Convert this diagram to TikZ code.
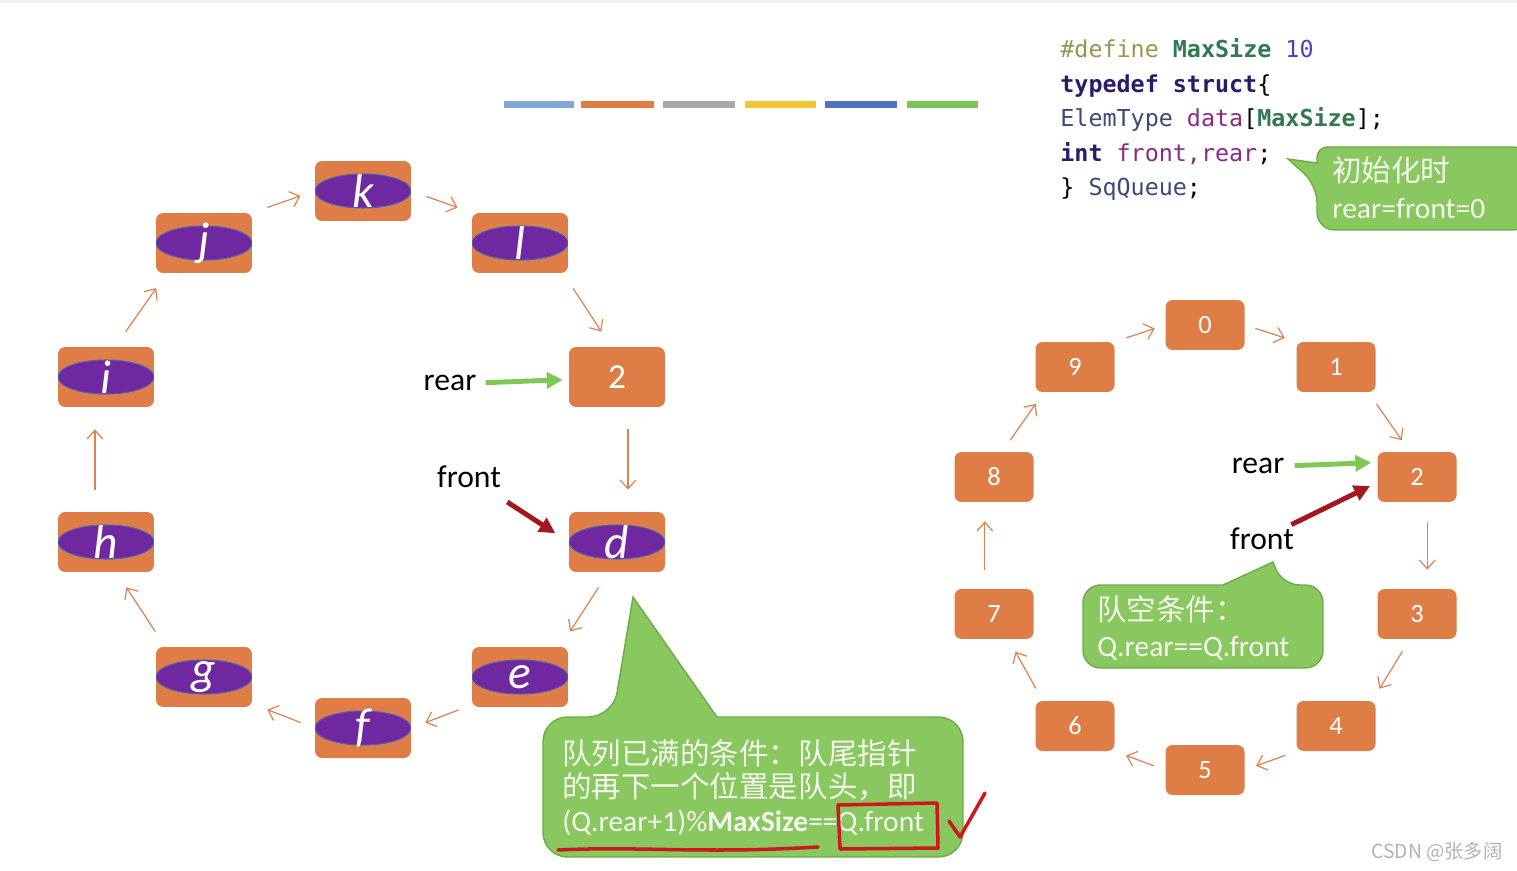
\documentclass[tikz,border=0pt]{standalone}
\usepackage{fontspec}
\setmainfont{Carlito}
\newfontfamily\cjk{Noto Sans CJK SC}
\newfontfamily\codefont{DejaVu Sans Mono}
\usetikzlibrary{arrows.meta}

\definecolor{boxorange}{RGB}{222,126,70}
\definecolor{ovalpurple}{RGB}{112,40,160}
\definecolor{ovalrim}{RGB}{80,95,175}
\definecolor{ringorange}{RGB}{222,130,80}
\definecolor{pointgreen}{RGB}{126,200,85}
\definecolor{pointred}{RGB}{165,22,30}
\definecolor{calloutgreen}{RGB}{137,200,95}
\definecolor{calloutrim}{RGB}{108,172,70}
\definecolor{notewhite}{RGB}{246,246,240}
\definecolor{redink}{RGB}{205,25,30}
\definecolor{codeolive}{RGB}{150,150,80}
\definecolor{codegreen}{RGB}{50,120,80}
\definecolor{codeblue}{RGB}{70,70,195}
\definecolor{codenavy}{RGB}{43,27,106}
\definecolor{codeslate}{RGB}{58,74,122}
\definecolor{codepurple}{RGB}{139,42,139}
\definecolor{barA}{RGB}{128,168,215}
\definecolor{barB}{RGB}{224,124,60}
\definecolor{barC}{RGB}{168,168,168}
\definecolor{barD}{RGB}{242,198,50}
\definecolor{barE}{RGB}{80,115,190}
\definecolor{barF}{RGB}{125,195,90}

\newcommand{\kw}[1]{{\bfseries\color{codenavy}#1}}
\newcommand{\mx}[1]{{\bfseries\color{codegreen}#1}}

\begin{document}
\begin{tikzpicture}[x=0.02cm, y=-0.02cm,
    letterbox/.style={fill=boxorange, rounded corners=4pt, minimum width=1.92cm,
      minimum height=1.2cm, inner sep=0pt, text=white,
      font=\itshape\fontsize{27}{27}\selectfont,
      path picture={\draw[fill=ovalpurple, draw=ovalrim, line width=0.6pt]
        (path picture bounding box.center) ellipse [x radius=0.96cm, y radius=0.34cm];}},
    digitbox/.style={fill=boxorange, rounded corners=4pt, minimum width=1.92cm,
      minimum height=1.2cm, inner sep=0pt, text=white, font=\fontsize{20}{20}\selectfont},
    numbox/.style={fill=boxorange, rounded corners=4pt, minimum width=1.58cm,
      minimum height=1.0cm, inner sep=0pt, text=white, font=\fontsize{15}{15}\selectfont},
    ring/.style={draw=ringorange, line width=0.7pt, -{Straight Barb[length=5pt, width=9pt]},
      shorten <=0.36cm, shorten >=0.36cm},
    smallring/.style={ring, shorten <=0.28cm, shorten >=0.28cm},
    tag/.style={inner sep=0pt, font=\fontsize{18}{18}\selectfont},
    greenpointer/.style={draw=pointgreen, line width=2.8pt,
      -{Triangle[length=9pt, width=9pt]}},
    redpointer/.style={draw=pointred, line width=2.8pt,
      -{Triangle[length=9pt, width=9pt]}},
    callout/.style={fill=calloutgreen, draw=calloutrim, line width=0.8pt},
    note/.style={inner sep=0pt, anchor=west, text=notewhite, font=\fontsize{16.8}{16.8}\selectfont},
    code/.style={inner sep=0pt, anchor=base west, font=\codefont\fontsize{13.3}{16}\selectfont},
    redmark/.style={draw=redink, line width=2pt, line cap=round, line join=round}]

  \useasboundingbox (0,0) rectangle (1517,871);
  \fill[gray!12] (0,0) rectangle (1517,3);

  % colour strip under the title
  \fill[barA] (504,101) rectangle (574,108);
  \fill[barB] (581,101) rectangle (654,108);
  \fill[barC] (663,101) rectangle (735,108);
  \fill[barD] (745,101) rectangle (816,108);
  \fill[barE] (825,101) rectangle (897,108);
  \fill[barF] (907,101) rectangle (978,108);

  % full queue
  \node[letterbox] (lk) at (363,191) {k};
  \node[letterbox] (lj) at (204,243) {j};
  \node[letterbox] (ll) at (520,243) {l};
  \node[letterbox] (li) at (106,377) {i};
  \node[digitbox] (ltwo) at (617,377) {2};
  \node[letterbox] (lh) at (106,542) {h};
  \node[letterbox] (ld) at (617,542) {d};
  \node[letterbox] (lg) at (204,677) {g};
  \node[letterbox] (le) at (520,677) {e};
  \node[letterbox] (lf) at (363,728) {f};

  \draw[ring] (li.73) -- (lj.-141);
  \draw[ring, shorten <=0.32cm, shorten >=0.3cm] (lj.north east) -- (lk.west);
  \draw[ring, shorten <=0.32cm, shorten >=0.3cm] (lk.east) -- (ll.north west);
  \draw[ring] (ll.-35) -- (ltwo.101);
  \draw[ring, shorten <=0.44cm, shorten >=0.44cm] (ltwo.-70) -- (ld.70);
  \draw[ring] (ld.-106) -- (le.37);
  \draw[ring, shorten <=0.28cm, shorten >=0.3cm] (le.-150) -- (lf.east);
  \draw[ring, shorten <=0.3cm, shorten >=0.32cm] (lf.west) -- (lg.-29);
  \draw[ring] (lg.142) -- (lh.-71);
  \draw[ring, shorten <=0.44cm, shorten >=0.44cm] (lh.110) -- (li.-110);

  \node[tag] (lrear) at (450,383) {rear};
  \draw[greenpointer, shorten <=0.18cm, shorten >=0.12cm] (lrear.east) -- (ltwo.-177);
  \node[tag] (lfront) at (469,477) {front};
  \draw[redpointer, shorten <=0.5cm, shorten >=0.32cm] (lfront) -- (ld.west);

  % empty queue
  \foreach \n/\x/\y in {0/1205/325, 1/1336/367, 2/1417/477, 3/1417/614, 4/1336/726,
      5/1205/770, 6/1075/726, 7/994/614, 8/994/477, 9/1075/367}
    \node[numbox] (r\n) at (\x,\y) {\n};

  \draw[smallring, shorten <=0.24cm, shorten >=0.22cm] (r9.north east) -- (r0.west);
  \draw[smallring, shorten <=0.22cm, shorten >=0.24cm] (r0.east) -- (r1.north west);
  \draw[smallring] (r1.-38) -- (r2.106);
  \draw[smallring, shorten <=0.4cm, shorten >=0.38cm] (r2.-68) -- (r3.68);
  \draw[smallring] (r3.-106) -- (r4.35);
  \draw[smallring, shorten <=0.24cm, shorten >=0.24cm] (r4.south west) -- (r5.east);
  \draw[smallring, shorten <=0.24cm, shorten >=0.24cm] (r5.west) -- (r6.south east);
  \draw[smallring] (r6.142) -- (r7.-60);
  \draw[smallring, shorten <=0.38cm, shorten >=0.38cm] (r7.110) -- (r8.-110);
  \draw[smallring] (r8.72) -- (r9.-141);

  \node[tag] (rrear) at (1258,466) {rear};
  \draw[greenpointer, shorten <=0.2cm, shorten >=0.12cm] (rrear.east) -- (r2.160);
  \node[tag] (rfront) at (1262,539) {front};
  \draw[redpointer, shorten <=0.14cm, shorten >=0.16cm] (rfront) -- (r2.-172);

  % struct definition
  \node[code] (codeA) at (1060,58) {{\color{codeolive}\#define} \mx{MaxSize} {\color{codeblue}10}};
  \node[code] (codeB) at (1060,93) {\kw{typedef struct}\{};
  \node[code] (codeC) at (1060,127) {{\color{codeslate}ElemType} {\color{codepurple}data}[\mx{MaxSize}];};
  \node[code] (codeD) at (1060,162) {\kw{int} {\color{codepurple}front,rear};};
  \node[code] (codeE) at (1060,196) {\} {\color{codeslate}SqQueue};};

  % callouts
  \draw[callout] (1400,147) [rounded corners=10pt] -- (1530,147) -- (1530,230) -- (1317,230)
    -- (1317,185) [sharp corners] -- (1288,159) -- (1317,163) [rounded corners=6pt] -- (1317,147) -- cycle;
  \node[note] (initA) at (1332,170) {\cjk 初始化时};
  \node[note] (initB) at (1332,208) {rear=front=0};

  \draw[callout] (1150,585) [rounded corners=10pt] -- (1083,585) -- (1083,668) -- (1323,668)
    -- (1323,585) -- (1282,585) [sharp corners] -- (1273,562) -- (1223,585) [rounded corners=10pt] -- cycle;
  \node[note] (emptyA) at (1097,609) {\cjk 队空条件：};
  \node[note] (emptyB) at (1097,648) {Q.rear==Q.front};

  \draw[callout] (800,717) [rounded corners=14pt] -- (963,717) -- (963,857) -- (543,857)
    -- (543,717) -- (613,717) [sharp corners] -- (633,597) -- (717,717) [rounded corners=14pt] -- cycle;
  \node[note] (fullA) at (562,753) {\cjk 队列已满的条件：队尾指针};
  \node[note] (fullB) at (562,787) {\cjk 的再下一个位置是队头，即};
  \node[note] (fullC) at (562,823) {(Q.rear+1)\%\textbf{MaxSize}==Q.front};

  % hand marks
  \draw[redmark] (558,850) .. controls (640,846) and (700,854) .. (818,847);
  \draw[redmark] (838,805) -- (937,803) -- (938,848) -- (840,849) -- cycle;
  \draw[redmark] (949,821) -- (960,837) -- (985,793);

  \node[text=gray!60, inner sep=0pt, font=\cjk\fontsize{11}{11}\selectfont] (mark) at (1437,852) {CSDN @张多阔};
\end{tikzpicture}
\end{document}
